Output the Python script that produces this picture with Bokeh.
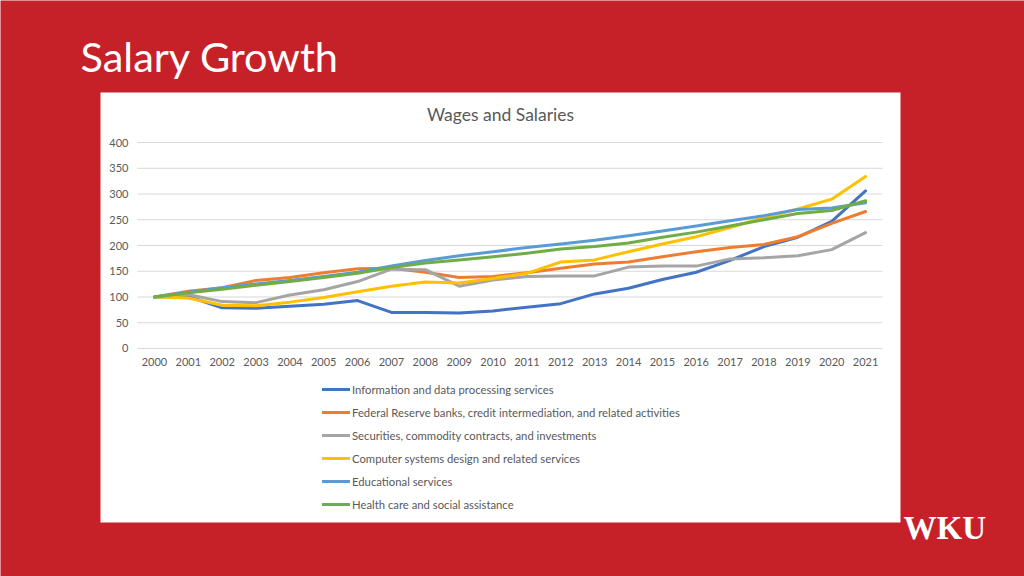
from bokeh.plotting import figure
from bokeh.models import Legend, LegendItem, FixedTicker, Range1d, Label
from bokeh.embed import file_html
from bokeh.resources import INLINE

years = list(range(2000, 2022))

info_data = [100, 101, 79, 78, 82, 86, 93, 70, 70, 69, 73, 80, 87, 106, 117, 134, 148, 171, 198, 216, 247, 306]
fed_reserve = [100, 111, 118, 132, 138, 147, 155, 156, 148, 138, 140, 147, 156, 164, 168, 178, 188, 196, 202, 217, 243, 266]
securities = [100, 105, 91, 89, 104, 114, 130, 154, 153, 121, 133, 140, 141, 141, 158, 160, 160, 174, 176, 180, 192, 225]
computer = [100, 98, 84, 83, 90, 99, 110, 121, 129, 127, 136, 146, 168, 172, 188, 203, 217, 235, 254, 271, 290, 334]
educational = [100, 109, 118, 125, 132, 140, 148, 160, 171, 180, 188, 196, 203, 210, 219, 228, 238, 248, 258, 270, 273, 283]
health = [100, 108, 115, 123, 130, 138, 146, 157, 166, 172, 178, 185, 193, 198, 205, 216, 226, 238, 250, 262, 268, 287]

series_labels = [
    "Information and data processing services",
    "Federal Reserve banks, credit intermediation, and related activities",
    "Securities, commodity contracts, and investments",
    "Computer systems design and related services",
    "Educational services",
    "Health care and social assistance",
]
series_values = [info_data, fed_reserve, securities, computer, educational, health]
series_colors = ["#4472C4", "#ED7D31", "#A5A5A5", "#FFC000", "#5B9BD5", "#70AD47"]
y_ticks = [0, 50, 100, 150, 200, 250, 300, 350, 400]

RED = "#C62129"
TXT = "#595959"
FONT = "Lato"

W, H = 1024, 576
# white chart panel in page pixels
PL, PR, PT, PB = 100, 900, 92, 522
# plotting area inside the panel in page pixels
AL, AR, AT, AB = 137, 882, 141, 349

x_lo, x_hi = years[0] - 0.5, years[-1] + 0.5
y_lo, y_hi = y_ticks[0] - 2, y_ticks[-1] + 2
xppu = (AR - AL) / (x_hi - x_lo)
yppu = (AB - AT) / (y_hi - y_lo)
# the plot frame covers the whole page
x_range = Range1d(x_lo - AL / xppu, x_hi + (W - AR) / xppu)
y_range = Range1d(y_lo - (H - AB) / yppu, y_hi + AT / yppu)

p = figure(width=W, height=H, output_backend="svg", toolbar_location=None, title=None,
           x_range=x_range, y_range=y_range, min_border=0,
           min_border_left=0, min_border_right=0, min_border_top=0, min_border_bottom=0,
           background_fill_color=RED, border_fill_color=RED, outline_line_color=None)

# white chart panel
p.quad(left=x_lo - (AL - PL) / xppu, right=x_hi + (PR - AR) / xppu,
       bottom=y_lo - (PB - AB) / yppu, top=y_hi + (AT - PT) / yppu,
       fill_color="white", line_color=None)

# axes drawn at the edges of the plotting area
p.xaxis.ticker = FixedTicker(ticks=years)
p.yaxis.ticker = FixedTicker(ticks=y_ticks)
p.xaxis.fixed_location = y_lo
p.yaxis.fixed_location = x_lo
for ax in (p.xaxis, p.yaxis):
    ax.axis_line_color = None
    ax.major_tick_line_color = None
    ax.minor_tick_line_color = None
    ax.major_tick_out = 0
    ax.major_tick_in = 0
    ax.major_label_text_color = TXT
    ax.major_label_text_font = FONT
    ax.major_label_text_font_size = "11px"
p.xaxis.major_label_standoff = 8
p.yaxis.major_label_standoff = 9

p.xgrid.grid_line_color = None
p.ygrid.grid_line_color = None
p.segment(x0=[x_lo] * len(y_ticks), x1=[x_hi] * len(y_ticks), y0=y_ticks, y1=y_ticks,
          line_color="#D9D9D9", line_width=1)

items = []
for lab, vals, col in zip(series_labels, series_values, series_colors):
    r = p.line(years, vals, line_color=col, line_width=3, line_join="round", line_cap="round")
    items.append(LegendItem(label=lab, renderers=[r]))

legend = Legend(items=items, location=(322, H - 514), orientation="vertical",
                label_text_font=FONT, label_text_font_size="11.3px", label_text_color=TXT,
                glyph_width=28, glyph_height=20, label_height=20, label_standoff=2,
                spacing=3, padding=0, margin=0, border_line_color=None,
                background_fill_alpha=0)
p.add_layout(legend, "center")

# slide title, chart title and logo
p.add_layout(Label(x=80, y=H - 55, x_units="screen", y_units="screen", text="Salary Growth",
                   text_font=FONT, text_font_size="41.5px", text_color="white", text_baseline="middle"))
p.add_layout(Label(x=500, y=H - 114, x_units="screen", y_units="screen", text="Wages and Salaries",
                   text_font=FONT, text_font_size="17.5px", text_color=TXT, text_align="center",
                   text_baseline="middle"))
p.add_layout(Label(x=903, y=H - 527, x_units="screen", y_units="screen", text="WKU",
                   text_font="Liberation Serif", text_font_style="bold", text_font_size="33px",
                   text_color="white", text_baseline="middle"))

open("out.html", "w").write(file_html(p, INLINE))
